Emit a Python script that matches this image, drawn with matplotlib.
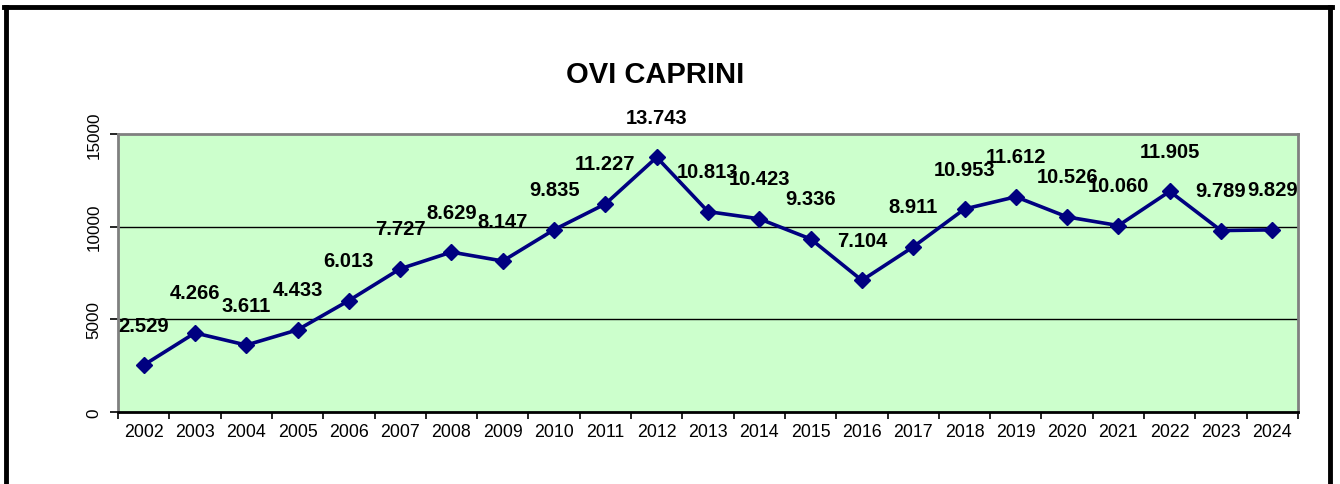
import numpy as np
import matplotlib
matplotlib.use("Agg")
import matplotlib.pyplot as plt
from matplotlib.lines import Line2D

plt.rcParams["font.family"] = ["Liberation Sans", "DejaVu Sans"]

anni = ["2002", "2003", "2004", "2005", "2006", "2007", "2008", "2009", "2010",
        "2011", "2012", "2013", "2014", "2015", "2016", "2017", "2018", "2019",
        "2020", "2021", "2022", "2023", "2024"]
capi = [2529, 4266, 3611, 4433, 6013, 7727, 8629, 8147, 9835, 11227, 13743,
        10813, 10423, 9336, 7104, 8911, 10953, 11612, 10526, 10060, 11905,
        9789, 9829]
y_ticks = [0, 5000, 10000, 15000]

W, H = 1340, 485
fig = plt.figure(figsize=(W / 100, H / 100), dpi=100)
ax = fig.add_axes([118 / W, 1 - 413 / H, (1298 - 118) / W, (413 - 135) / H])
ax.set_facecolor("#CCFFCC")

x = np.arange(len(anni))
ax.plot(x, capi, color="#000080", lw=2.6, marker="D", ms=8.5, zorder=3)

for xi, v in zip(x, capi):
    ax.annotate(f"{v:,}".replace(",", "."), (xi, v), xytext=(0, 40),
                textcoords="offset pixels", ha="center", va="center",
                fontsize=14.5, fontweight="bold", annotation_clip=False, zorder=4)

ax.set_xlim(-0.5, len(anni) - 0.5)
ax.set_ylim(0, 15000)
ax.set_xticks(x)
ax.set_xticklabels(anni, fontsize=12.8)
ax.set_xticks(np.arange(-0.5, len(anni)), minor=True)
ax.tick_params(axis="x", which="major", length=0, pad=8)
ax.tick_params(axis="x", which="minor", length=5, width=1.2, direction="out")
ax.set_yticks(y_ticks)
ax.set_yticklabels([str(t) for t in y_ticks], rotation=90, va="center", fontsize=12.3)
ax.tick_params(axis="y", length=6, width=1.2, pad=6)

for t in y_ticks[1:3]:
    ax.axhline(t, color="black", lw=1, zorder=1)

for s in ["top", "right", "left"]:
    ax.spines[s].set_color("#808080")
    ax.spines[s].set_linewidth(2)
ax.spines["bottom"].set_color("black")
ax.spines["bottom"].set_linewidth(2)

fig.text(655 / W, 1 - 75 / H, "OVI CAPRINI", ha="center", va="center",
         fontsize=21, fontweight="bold")

# cornice esterna
fig.add_artist(Line2D([5.5 / W, 5.5 / W], [0, 1 - 7.5 / H], color="black", lw=3.5))
fig.add_artist(Line2D([1330 / W, 1330 / W], [0, 1 - 7.5 / H], color="black", lw=3.5))
fig.add_artist(Line2D([4 / W, 1331.5 / W], [1 - 7.5 / H, 1 - 7.5 / H], color="black", lw=3.5))

fig.savefig("out.png", dpi=100)
